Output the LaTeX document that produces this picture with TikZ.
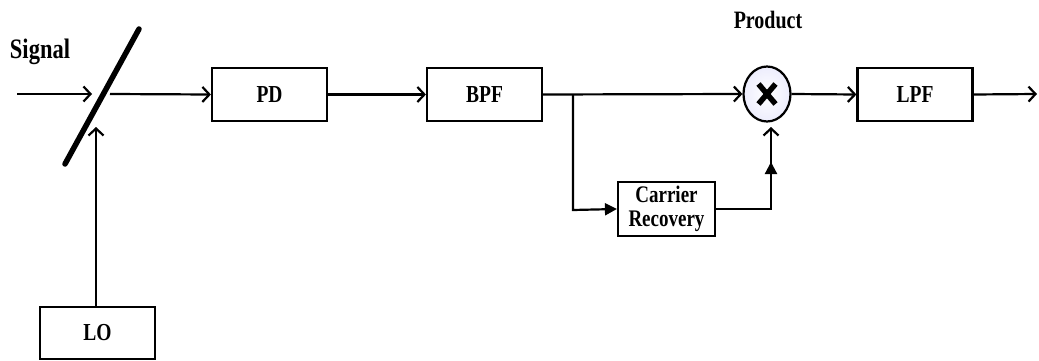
\documentclass[tikz,border=0pt]{standalone}
\usepackage{fontspec}
\setmainfont{Liberation Serif}
\usetikzlibrary{arrows.meta,shapes.geometric}
\newcommand{\tall}[1]{\scalebox{1}[1.25]{#1}}
\tikzset{
  blk/.style={draw, line width=2.2pt, minimum width=115pt, minimum height=53pt,
    inner sep=0pt, font=\fontsize{19.5}{21}\selectfont\bfseries},
  lbl/.style={inner sep=0pt, font=\fontsize{20}{22}\selectfont\bfseries},
  conn/.style={line width=2.2pt, -{Straight Barb[length=7pt,width=15pt]}},
  tri/.style={line width=2.2pt, -{Triangle[length=12pt,width=12pt]}}
}
\begin{document}
\begin{tikzpicture}[x=1pt,y=-1pt]
\useasboundingbox (0,0) rectangle (1039,361);

% blocks
\node[blk] (pd)  at (269.5,94.5) {\tall{PD}};
\node[blk] (bpf) at (484.5,94.5) {\tall{BPF}};
\node[blk] (lpf) at (915,94.5) {\tall{LPF}};
\node[blk, minimum height=52pt] (lo) at (97.5,333) {\tall{LO}};
\node[blk, minimum width=97pt, minimum height=54pt, align=center,
  font=\fontsize{19}{24}\selectfont\bfseries] (cr) at (666.5,209)
  {\tall{Carrier}\\\tall{Recovery}};

% mixer
\node[ellipse, draw, line width=2.2pt, minimum width=47pt, minimum height=55pt,
  inner sep=0pt, inner color=white, outer color=gray!22!blue!8] (mix) at (767,94) {};
\draw[line width=5.5pt] ([shift={(-8.5,-10)}]mix.center) -- ([shift={(8.5,10)}]mix.center);
\draw[line width=5.5pt] ([shift={(-8.5,10)}]mix.center) -- ([shift={(8.5,-10)}]mix.center);

% labels
\node[lbl, font=\fontsize{22.5}{24}\selectfont\bfseries] (sig) at (40,52) {\tall{Signal}};
\node[lbl] (prod) at (768,20) {\tall{Product}};

% beam splitter
\coordinate (bsA) at (65,164);
\coordinate (bsB) at (139,29);
\draw[line width=5.5pt, line cap=round] (bsA) -- (bsB);

% connectors
\coordinate (sigIn) at (17,94);
\coordinate (sigTip) at (92,94);
\coordinate (bsOut) at (110,94);
\coordinate (loTip) at (96,127);
\coordinate (branch) at (573,94);
\coordinate (crIn) at (573,210);
\coordinate (upTri) at (771,162);
\coordinate (upBase) at (771,175);
\coordinate (upTip) at (771,127);
\coordinate (outEnd) at (1037,94);

\draw[conn] (sigIn) -- (sigTip);
\draw[conn] (bsOut) -- (pd.west);
\draw[conn] (lo.north -| loTip) -- (loTip);
\draw[conn] (pd.east) -- (bpf.west);
\draw[conn] (bpf.east) -- (mix.west);
\draw[tri] (branch) -- (crIn) -- (cr.west);
\draw[tri] (cr.east) -| (upTri);
\draw[conn] (upBase) -- (upTip);
\draw[conn] (mix.east) -- (lpf.west);
\draw[conn] (lpf.east) -- (outEnd);
\end{tikzpicture}
\end{document}
